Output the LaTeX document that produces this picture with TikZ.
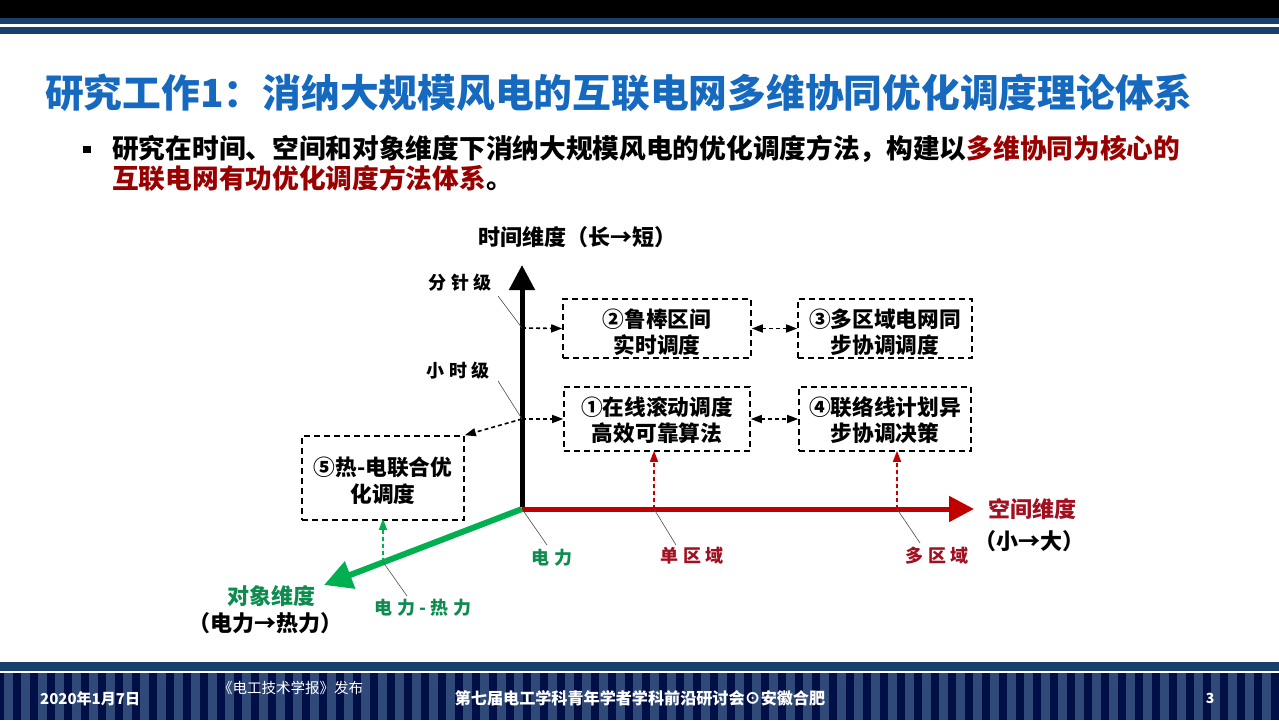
\documentclass[tikz,border=0pt]{standalone}
\usepackage{fontspec}
\usetikzlibrary{arrows.meta}
\setmainfont{Noto Sans CJK SC}
\newfontfamily\spacedcjk[LetterSpace=25]{Noto Sans CJK SC}
\newcommand{\pxf}[1]{\fontsize{#1}{#1}\selectfont}
\newcommand{\lift}[1]{\rule{0pt}{#1pt}}
\definecolor{navy}{HTML}{17406D}
\definecolor{titleblue}{HTML}{1569BE}
\definecolor{stripedark}{HTML}{000F45}
\definecolor{stripelight}{HTML}{2F4A78}
\definecolor{axred}{HTML}{C00000}
\definecolor{axgreen}{HTML}{00B050}
\definecolor{lblred}{HTML}{A01020}
\definecolor{lblgreen}{HTML}{0E8C50}
\definecolor{dred}{HTML}{990000}
\tikzset{
  dimbox/.style={draw=black,line width=1.6pt,dash pattern=on 6pt off 4pt,inner sep=0pt,align=center,
    font=\bfseries\fontsize{21.7}{26.5}\selectfont},
  axisblack/.style={draw=black,line width=5pt,-{Triangle[length=25pt,width=25pt]}},
  axisred/.style={draw=axred,line width=5pt,-{Triangle[length=25pt,width=25pt]}},
  axisgreen/.style={draw=axgreen,line width=6pt,-{Triangle[length=28pt,width=28pt]}},
  link/.style={line width=1.6pt,dash pattern=on 4pt off 3pt,-{Triangle[length=11pt,width=8pt]}},
  bilink/.style={line width=1.6pt,dash pattern=on 4pt off 3pt,{Triangle[length=11pt,width=8pt]}-{Triangle[length=11pt,width=8pt]}},
  leader/.style={draw=black!70,line width=0.6pt},
  tag/.style={inner sep=0pt,font=\spacedcjk\bfseries\pxf{18}},
  axlabel/.style={inner sep=0pt,font=\bfseries\pxf{22}},
  foot/.style={inner sep=0pt,text=white}
}
\begin{document}
\begin{tikzpicture}[x=1pt,y=-1pt]
\useasboundingbox (0,0) rectangle (1279,720);
\fill[white] (0,0) rectangle (1279,720);
% header
\fill[black] (0,0) rectangle (1279,18);
\fill[navy] (0,18) rectangle (1279,24);
\fill[navy] (0,27) rectangle (1279,34);
% footer
\fill[navy] (0,662) rectangle (1279,670.5);
\fill[stripelight] (0,672.5) rectangle (1279,720);
\foreach \i in {0,...,75} {
  \fill[stripedark] ({\i*17-4.3},672.5) rectangle ({\i*17+4.2},720);
}
% title
\node[inner sep=0pt,anchor=west,text=titleblue,font=\bfseries\pxf{38.75}] (title) at (45,93) {研究工作1：消纳大规模风电的互联电网多维协同优化调度理论体系};
\fill[black] (83,146) rectangle (91,153);
\node[inner sep=0pt,anchor=west,font=\bfseries\pxf{26.7}] (line1) at (112,149) {研究在时间、空间和对象维度下消纳大规模风电的优化调度方法，构建以\textcolor{dred}{多维协同为核心的}};
\node[inner sep=0pt,anchor=west,font=\bfseries\pxf{26.7}] (line2) at (112,178) {\textcolor{dred}{互联电网有功优化调度方法体系}。};
% axes
\coordinate (O) at (522,509);
\coordinate (T) at (522,265);
\coordinate (S) at (974,509);
\coordinate (G) at (324,585);
\coordinate (tm) at (522,328);
\coordinate (th) at (522,419);
\coordinate (s1) at (654,509);
\coordinate (s2) at (897,509);
\coordinate (g1) at (383,562);
\draw[axisred] (O) -- (S);
\draw[axisgreen] (O) -- (G);
\draw[axisblack] ([yshift=2.5pt]O) -- (T);
% boxes
\node[dimbox,minimum width=188pt,minimum height=59pt] (b2) at (657,328.5) {\lift{26}②鲁棒区间\\实时调度};
\node[dimbox,minimum width=174pt,minimum height=59pt] (b3) at (885,328.5) {\lift{26}③多区域电网同\\步协调调度};
\node[dimbox,minimum width=186pt,minimum height=64pt] (b1) at (657,419) {\lift{21}①在线滚动调度\\高效可靠算法};
\node[dimbox,minimum width=172pt,minimum height=64pt] (b4) at (885,419) {\lift{21}④联络线计划异\\步协调决策};
\node[dimbox,minimum width=162pt,minimum height=84pt] (b5) at (383,478) {\lift{24}⑤热-电联合优\\化调度};
% connectors
\draw[link] (tm) -- (b2.west);
\draw[link] (th) -- (b1.west);
\draw[link] (th) -- (b5.north east);
\draw[bilink] (b2) -- (b3);
\draw[bilink] (b1) -- (b4);
\draw[link,draw=axred,fill=axred] (s1) -- ([yshift=1pt]b1.south -| s1);
\draw[link,draw=axred,fill=axred] (s2) -- ([yshift=1pt]b4.south -| s2);
\draw[link,draw=axgreen,fill=axgreen] (g1) -- ([yshift=2pt]b5.south);
% tags and leaders
\node[tag] (fen) at (460,283) {分针级};
\node[tag] (xiao) at (458,371) {小时级};
\node[tag,text=lblgreen] (dl) at (552,558) {电力};
\node[tag,text=lblred] (dq) at (692,556) {单区域};
\node[tag,text=lblred] (mq) at (937,556) {多区域};
\node[tag,text=lblgreen] (drl) at (423,608) {电力-热力};
\draw[leader] (498,296) -- (tm);
\draw[leader] (498,381) -- (th);
\draw[leader] (O) -- (547,545);
\draw[leader] (s1) -- (676,545);
\draw[leader] (s2) -- (920,543);
\draw[leader] (g1) -- (407,596);
% axis labels
\node[axlabel] (tl) at (577,237) {时间维度（长→短）};
\node[axlabel,text=lblred] (sl) at (1032,509) {空间维度};
\node[axlabel] (sl2) at (1029,541) {（小→大）};
\node[axlabel,text=lblgreen] (gl) at (271,596) {对象维度};
\node[axlabel] (gl2) at (265,623) {（电力→热力）};
% footer text
\node[foot,anchor=west,font=\bfseries\pxf{15}] (date) at (40,699) {2020年1月7日};
\node[foot,anchor=west,font=\pxf{14.5}] (pub) at (218,688) {《电工技术学报》发布};
\node[foot,font=\bfseries\pxf{16.1}] (conf) at (640,698) {第七届电工学科青年学者学科前沿研讨会⊙安徽合肥};
\node[foot,font=\bfseries\pxf{14}] (page) at (1210,698) {3};
\end{tikzpicture}
\end{document}
